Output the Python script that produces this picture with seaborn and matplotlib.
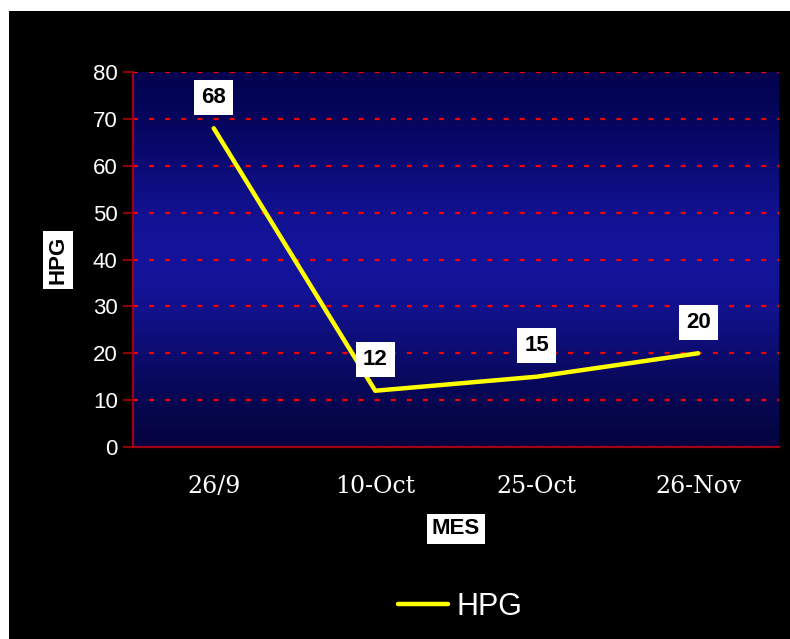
import numpy as np
import pandas as pd
import matplotlib.pyplot as plt
import seaborn as sns
from matplotlib.patches import Rectangle

# data
fechas = ["26/9", "10-Oct", "25-Oct", "26-Nov"]
hpg = [68, 12, 15, 20]
y_ticks = [0, 10, 20, 30, 40, 50, 60, 70, 80]

df = pd.DataFrame({"pos": range(len(fechas)), "HPG": hpg})

sns.set_style("dark")
plt.rcParams["font.family"] = ["Liberation Sans", "DejaVu Sans"]
plt.rcParams["lines.scale_dashes"] = False

fig = plt.figure(figsize=(7.9, 6.39), dpi=100)
fig.patch.set_facecolor("white")
# black chart area (white strip on top and left, as in the reference)
fig.patches.append(Rectangle((9 / 790, 0), 1, 1 - 11 / 639, transform=fig.transFigure,
                             facecolor="black", edgecolor="none", zorder=-10))

ax = fig.add_axes([133 / 790, 1 - 447 / 639, 646 / 790, 375 / 639])
ax.set_facecolor("none")

# blue gradient background: dark at edges, brighter in the middle
t = np.linspace(0, 1, 256)
w = np.exp(-((t - 0.5) / 0.33) ** 2)
top = np.array([0, 0, 70]) / 255
mid = np.array([20, 20, 155]) / 255
bot = np.array([2, 2, 55]) / 255
edge = np.where(t[:, None] < 0.5, top, bot)
grad = edge * (1 - w[:, None]) + mid * w[:, None]
ax.imshow(grad[:, None, :], extent=[-0.5, 3.5, 0, 80], aspect="auto", zorder=0, origin="upper")

sns.lineplot(data=df, x="pos", y="HPG", color="#ffff00", linewidth=3.2, ax=ax,
             label="HPG", legend=False, zorder=5, solid_capstyle="round")

for i, v in enumerate(hpg):
    ax.annotate(str(v), (i, v), xytext=(0, 31), textcoords="offset pixels",
                ha="center", va="center", fontsize=16, fontweight="bold", color="black",
                bbox=dict(boxstyle="square,pad=0.32", facecolor="white", edgecolor="none"),
                zorder=6)

ax.set_xlim(-0.5, 3.5)
ax.set_ylim(0, 80)
ax.set_yticks(y_ticks)
ax.set_xticks(range(len(fechas)))
ax.set_xticklabels(fechas, fontsize=17, color="white", fontfamily="DejaVu Serif")
ax.set_xticks([-0.5, 0.5, 1.5, 2.5, 3.5], minor=True)
ax.tick_params(axis="x", which="major", length=0, pad=20)
ax.tick_params(axis="x", which="minor", length=8, width=1.2, color="#b00000", direction="out")
ax.tick_params(axis="y", length=7, width=1.2, color="#b00000", direction="out",
               labelsize=16, labelcolor="white", pad=4, left=True)

ax.grid(False)
ax.yaxis.grid(True, color="#ff0000", linestyle=(0, (3.6, 8)), linewidth=1.6, zorder=1)
ax.set_axisbelow(False)
for s in ["top", "right"]:
    ax.spines[s].set_visible(False)
for s in ["left", "bottom"]:
    ax.spines[s].set_color("#a00018")
    ax.spines[s].set_linewidth(1.6)
    ax.spines[s].set_zorder(4)

ax.set_xlabel("")
ax.set_ylabel("")
fig.text(58 / 790, 1 - 260 / 639, "HPG", rotation=90, ha="center", va="center",
         fontsize=16, fontweight="bold", color="black",
         bbox=dict(boxstyle="square,pad=0.2", facecolor="white", edgecolor="none"))
fig.text(456 / 790, 1 - 529 / 639, "MES", ha="center", va="center",
         fontsize=16, fontweight="bold", color="black",
         bbox=dict(boxstyle="square,pad=0.2", facecolor="white", edgecolor="none"))

handles, labels = ax.get_legend_handles_labels()
leg = fig.legend(handles, labels, loc="center", bbox_to_anchor=(460 / 790, 1 - 607 / 639),
                 frameon=False, fontsize=22, handlelength=1.65, handletextpad=0.25)
for txt in leg.get_texts():
    txt.set_color("white")

fig.savefig("out.png", dpi=100, facecolor=fig.get_facecolor())
